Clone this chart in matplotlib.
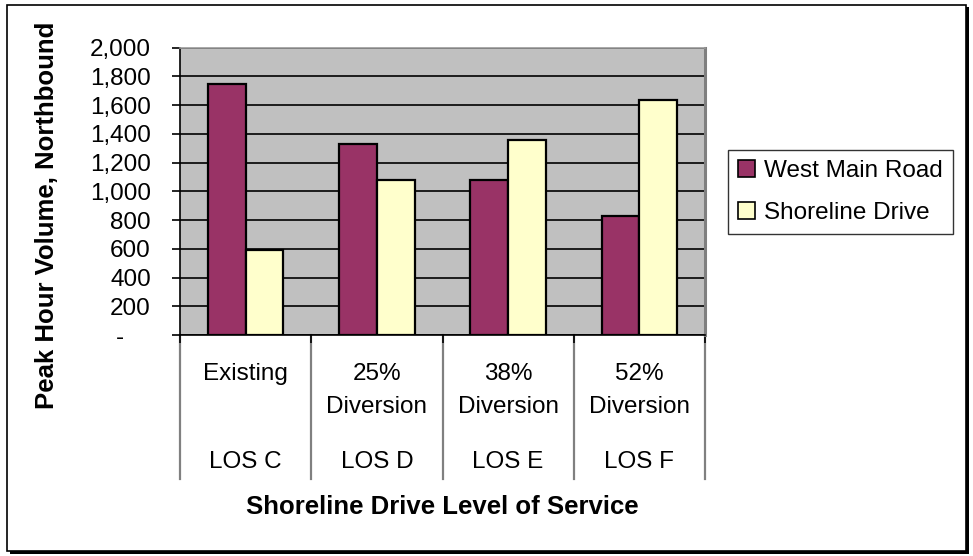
import numpy as np
import matplotlib
matplotlib.use("Agg")
import matplotlib.pyplot as plt
from matplotlib.patches import Rectangle, Patch
from matplotlib.ticker import FuncFormatter

plt.rcParams['font.family'] = ['Liberation Sans', 'DejaVu Sans']

# ---- data ----
line1 = ["Existing", "25%", "38%", "52%"]
line2 = ["", "Diversion", "Diversion", "Diversion"]
los_labels = ["LOS C", "LOS D", "LOS E", "LOS F"]
series_names = ["West Main Road", "Shoreline Drive"]
west_main = [1745, 1330, 1080, 830]
shoreline = [590, 1080, 1360, 1635]
y_ticks = [0, 200, 400, 600, 800, 1000, 1200, 1400, 1600, 1800, 2000]

W, H = 973, 556
fig = plt.figure(figsize=(W / 100, H / 100), dpi=100)
fig.patch.set_facecolor('white')

# outer frame with shadow
fig.patches.append(Rectangle((10 / W, 1 - 554 / H), 959 / W, 547 / H, transform=fig.transFigure,
                             facecolor='black', edgecolor='none', zorder=-3))
fig.patches.append(Rectangle((7 / W, 1 - 551 / H), 959 / W, 546 / H, transform=fig.transFigure,
                             facecolor='white', edgecolor='black', lw=1.2, zorder=-2))

left_px, right_px, top_px, bot_px = 180, 705, 47.7, 335
ax = fig.add_axes([left_px / W, 1 - bot_px / H, (right_px - left_px) / W, (bot_px - top_px) / H])
ax.set_facecolor('#C0C0C0')

x = np.arange(len(line1))
bw = 0.287
fs = 17.5
ax.bar(x - bw / 2, west_main, bw, color='#993366', edgecolor='black', lw=1.6, zorder=3,
       label=series_names[0])
ax.bar(x + bw / 2, shoreline, bw, color='#FFFFCC', edgecolor='black', lw=1.6, zorder=3,
       label=series_names[1])

ax.set_xlim(-0.5, len(line1) - 0.5)
ax.set_ylim(0, 2000)
ax.set_yticks(y_ticks)
ax.yaxis.set_major_formatter(FuncFormatter(lambda v, p: "-    " if v == 0 else f"{int(v):,}"))
ax.grid(axis='y', color='black', lw=1.2, zorder=1)
ax.set_axisbelow(True)
ax.tick_params(axis='y', direction='out', length=6, width=1.2, labelsize=fs, pad=15)

bounds = np.arange(len(line1) + 1) - 0.5
ax.set_xticks(bounds)
ax.set_xticklabels([])
ax.tick_params(axis='x', direction='out', length=6, width=1.2)

for s in ['left', 'bottom']:
    ax.spines[s].set_color('black')
    ax.spines[s].set_linewidth(1.2)
ax.spines['top'].set_color('#999999')
ax.spines['top'].set_linewidth(1.2)
ax.spines['right'].set_color('#7f7f7f')
ax.spines['right'].set_linewidth(2.2)

ph = bot_px - top_px
def ay(py):
    return (bot_px - py) / ph

tr = ax.get_xaxis_transform()
for b in bounds:
    ax.plot([b, b], [0, ay(479)], transform=tr, color='#808080', lw=1.6, clip_on=False, zorder=0)

for i in range(len(line1)):
    ax.text(x[i], ay(374), line1[i], transform=tr, ha='center', va='center', fontsize=fs)
    if line2[i]:
        ax.text(x[i], ay(407), line2[i], transform=tr, ha='center', va='center', fontsize=fs)
    ax.text(x[i], ay(462), los_labels[i], transform=tr, ha='center', va='center', fontsize=fs)

fig.text(442 / W, 1 - 507 / H, "Shoreline Drive Level of Service", ha='center', va='center',
         fontsize=18.5, fontweight='bold')
fig.text(47 / W, 1 - 215 / H, "Peak Hour Volume, Northbound", ha='center', va='center',
         rotation=90, fontsize=18.5, fontweight='bold')

handles = [Patch(facecolor='#993366', edgecolor='black', lw=1.2),
           Patch(facecolor='#FFFFCC', edgecolor='black', lw=1.2)]
leg = fig.legend(handles, series_names, loc='upper left',
                 bbox_to_anchor=(728 / W, 1 - 150 / H), fontsize=fs, frameon=True,
                 fancybox=False, edgecolor='black', borderaxespad=0,
                 handlelength=0.7, handleheight=0.7, handletextpad=0.35,
                 labelspacing=0.8, borderpad=0.42)
leg.get_frame().set_linewidth(1.0)

fig.savefig("out.png", dpi=100)
